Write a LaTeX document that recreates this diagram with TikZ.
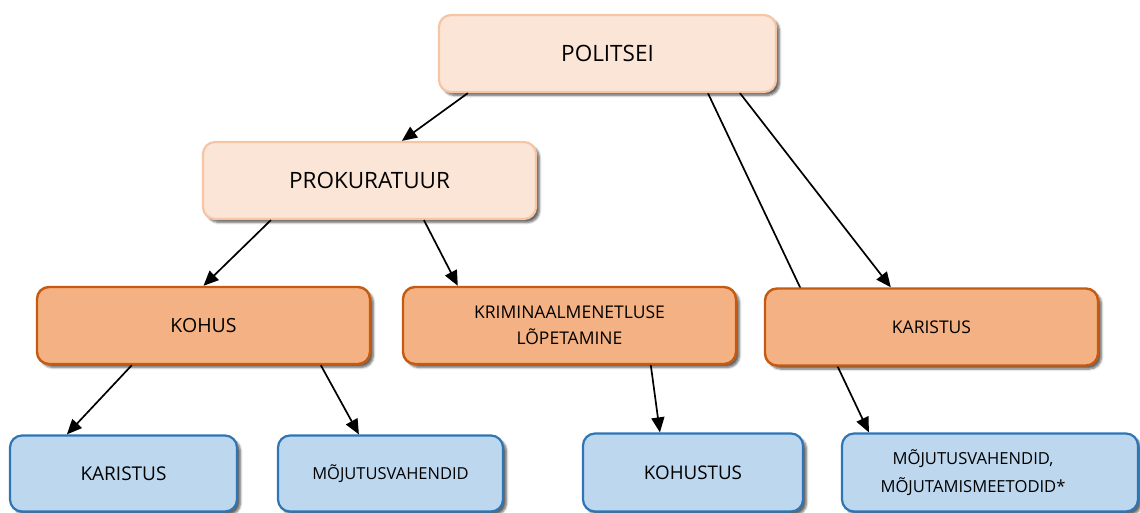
\documentclass[tikz,border=0pt]{standalone}
\usepackage{fontspec}
\setmainfont{Open Sans}
\usetikzlibrary{arrows.meta,shadows.blur,calc}
\pgfdeclarelayer{background}
\pgfsetlayers{background,main}

\definecolor{peachfill}{HTML}{FBE5D6}
\definecolor{peachline}{HTML}{F6C5A5}
\definecolor{orfill}{HTML}{F4B183}
\definecolor{orline}{HTML}{C55A11}
\definecolor{blfill}{HTML}{BDD7EE}
\definecolor{blline}{HTML}{2E75B6}

\tikzset{
  box/.style={rounded corners=12pt, inner sep=0pt, align=center, text=black,
    blur shadow={shadow xshift=3.5pt, shadow yshift=-3.5pt, shadow blur steps=6, shadow opacity=60}},
  peachbox/.style={box, fill=peachfill, draw=peachline, line width=2.2pt, minimum height=77pt},
  orbox/.style={box, fill=orfill, draw=orline, line width=2.4pt, minimum height=77pt, minimum width=333pt},
  bluebox/.style={box, fill=blfill, draw=blline, line width=2.2pt, minimum height=76pt},
  conn/.style={line width=1.7pt, draw=black, -{Triangle[length=15pt,width=13pt]}}
}

\begin{document}
\begin{tikzpicture}[x=1pt, y=-1pt]
  \useasboundingbox (0,0) rectangle (1140,513);

  % top levels
  \node[peachbox, minimum width=337pt, font=\fontsize{22.5}{26}\selectfont] (pol) at (607.5,53.5) {POLITSEI};
  \node[peachbox, minimum width=333pt, font=\fontsize{22.5}{26}\selectfont] (prok) at (369.5,180.5) {PROKURATUUR};

  % middle
  \node[orbox, font=\fontsize{19.5}{24}\selectfont] (kohus) at (203.5,325.5) {KOHUS};
  \node[orbox, font=\fontsize{17.5}{26}\selectfont] (krim) at (569.5,325.5) {KRIMINAALMENETLUSE\\LÕPETAMINE};
  \node[orbox, font=\fontsize{17.5}{24}\selectfont] (kar) at (931.5,327) {KARISTUS};

  % bottom
  \node[bluebox, minimum width=227pt, font=\fontsize{19}{24}\selectfont] (karb) at (123.5,473.5) {KARISTUS};
  \node[bluebox, minimum width=225pt, font=\fontsize{16.5}{24}\selectfont] (moj) at (390.5,473.5) {MÕJUTUSVAHENDID};
  \node[bluebox, minimum width=220pt, minimum height=78pt, font=\fontsize{18.8}{24}\selectfont] (kohustus) at (693,472.5) {KOHUSTUS};
  \node[bluebox, minimum width=296pt, minimum height=78pt,
        label={[font=\fontsize{16.6}{28}\selectfont, align=center, xshift=-17pt]center:MÕJUTUSVAHENDID,\\MÕJUTAMISMEETODID*}] (moj2) at (990,472.5) {};

  % connector behind KARISTUS
  \begin{pgfonlayer}{background}
    \draw[conn] ([xshift=270pt]pol.south west) -- ([xshift=28pt]moj2.north west);
  \end{pgfonlayer}

  \draw[conn] ([xshift=30pt]pol.south west) -- ([xshift=200pt]prok.north west);
  \draw[conn] ([xshift=302pt]pol.south west) -- ([xshift=127pt]kar.north west);
  \draw[conn] ([xshift=69pt]prok.south west) -- (kohus.north);
  \draw[conn] ([xshift=222pt]prok.south west) -- ([xshift=56pt]krim.north west);
  \draw[conn] ([xshift=96pt]kohus.south west) -- ([xshift=58pt]karb.north west);
  \draw[conn] ([xshift=285pt]kohus.south west) -- ([xshift=82pt]moj.north west);
  \draw[conn] ([xshift=249pt]krim.south west) -- ([xshift=78pt]kohustus.north west);
\end{tikzpicture}
\end{document}
